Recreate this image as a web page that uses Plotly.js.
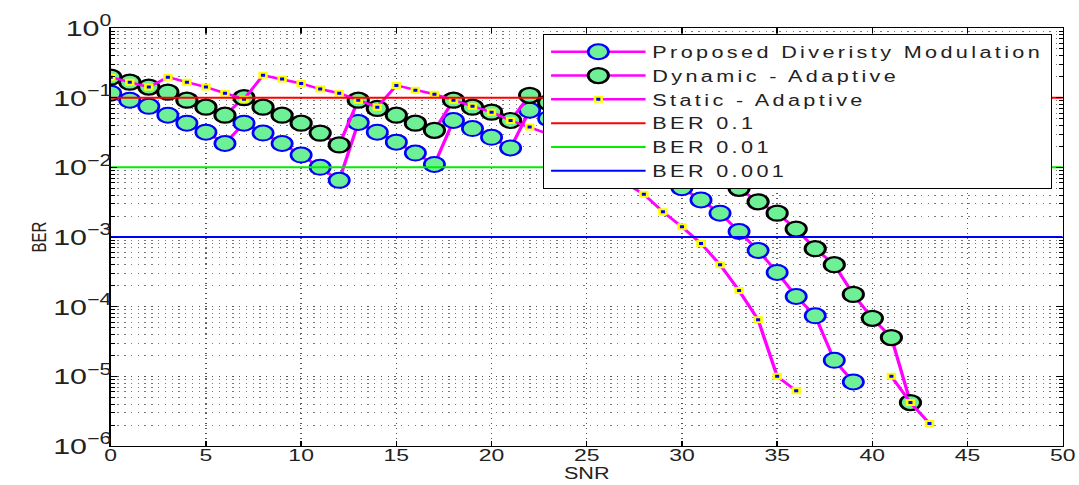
<!DOCTYPE html>
<html><head><meta charset="utf-8">
<script src="https://cdn.plot.ly/plotly-3.0.1.min.js"></script>
<style>
html,body{margin:0;padding:0;background:#fff;overflow:hidden;}
#wrap{width:1079px;height:485px;overflow:hidden;}
#plot{width:799px;height:485px;transform:scaleX(1.3504);transform-origin:0 0;}
.legendtext{letter-spacing:2.5px;}
</style></head><body><div id="wrap"><div id="plot"></div></div>
<script>
const snr = [0,1,2,3,4,5,6,7,8,9,10,11,12,13,14,15,16,17,18,19,20,21,22,23,24,25,26,27,28,29,30,31,32,33,34,35,36,37,38,39,40,41,42,43];

const proposed = [0.116,0.092,0.075,0.056,0.043,0.032,0.022,
  0.043,0.031,0.022,0.015,0.010,0.0065,
  0.044,0.032,0.023,0.016,0.011,
  0.047,0.036,0.027,0.019,
  0.066,0.05,0.038,0.028,0.02,0.014,0.01,0.0072,0.0051,0.0034,0.0022,0.0012,0.00064,0.00031,0.00014,0.000074,0.000017,0.0000083,
  null,null,null,null];

const dynamic = [0.197,0.167,0.142,0.12,0.092,0.073,0.056,
  0.1,0.073,0.056,0.043,0.031,0.021,
  0.092,0.07,0.056,0.043,0.034,
  0.092,0.073,0.062,0.047,
  0.108,0.085,0.066,0.05,0.038,0.029,0.022,0.016,0.012,0.009,0.0068,
  0.0050,0.0032,0.0022,0.0013,0.00068,0.00040,0.00015,0.000068,0.000036,0.0000042,
  null];

const staticA = [0.197,0.167,0.142,
  0.197,0.167,0.142,0.116,0.095,
  0.21,0.185,0.16,0.133,0.116,0.092,0.073,
  0.15,0.128,0.112,0.092,0.075,0.062,0.047,0.038,
  0.03,0.022,0.015,0.0095,0.006,0.0041,0.0023,0.0014,0.00081,0.00040,0.00017,0.000065,0.000010,0.0000062,
  null,null,null,null,
  0.000010,0.0000042,0.0000021];

const berX = [0, 50];
const ber01 = [0.1, 0.1];
const ber001 = [0.01, 0.01];
const ber0001 = [0.001, 0.001];

const names = ['Proposed Diveristy Modulation','Dynamic - Adaptive','Static - Adaptive','BER 0.1','BER 0.01','BER 0.001'];
const xTicks = [0,5,10,15,20,25,30,35,40,45,50];

const mag = '#ff00ff';
const fill = 'rgb(110,240,150)';

const traces = [
  {x: snr, y: proposed, name: names[0], mode: 'lines+markers', connectgaps: false,
   line: {color: mag, width: 2.5},
   marker: {symbol: 'circle', size: 15, color: fill, line: {color: '#0000ff', width: 2}}},
  {x: snr, y: dynamic, name: names[1], mode: 'lines+markers', connectgaps: false,
   line: {color: mag, width: 2.5},
   marker: {symbol: 'circle', size: 15, color: fill, line: {color: '#000000', width: 2.2}}},
  {x: snr, y: staticA, name: names[2], mode: 'lines+markers', connectgaps: false,
   line: {color: mag, width: 2.5},
   marker: {symbol: 'square', size: 5, color: '#0000ff', line: {color: '#ffff00', width: 2}}},
  {x: berX, y: ber01, name: names[3], mode: 'lines', line: {color: '#ff0000', width: 2}},
  {x: berX, y: ber001, name: names[4], mode: 'lines', line: {color: '#00ee00', width: 2}},
  {x: berX, y: ber0001, name: names[5], mode: 'lines', line: {color: '#0000ff', width: 2}}
];

const layout = {
  width: 799, height: 485,
  margin: {l: 82, r: 12, t: 28, b: 39},
  paper_bgcolor: '#fff', plot_bgcolor: '#fff',
  font: {family: 'Liberation Sans, Arial, sans-serif', color: '#222'},
  showlegend: true,
  legend: {x: 0.454, y: 0.986, xanchor: 'left', yanchor: 'top',
    bgcolor: '#fff', bordercolor: '#000', borderwidth: 1,
    font: {size: 16, color: '#222'}, itemwidth: 70, tracegroupgap: 0},
  xaxis: {range: [0, 50], tickvals: xTicks, ticks: 'inside', ticklen: 5, tickcolor: '#000',
    showline: true, linecolor: '#000', linewidth: 1, mirror: 'allticks',
    showgrid: true, gridcolor: '#555', griddash: '1px,4px', gridwidth: 1, zeroline: false,
    tickfont: {size: 17, color: '#222'}, ticklabelstandoff: -6,
    title: {text: 'SNR', font: {size: 16, color: '#222'}, standoff: 0}},
  yaxis: {type: 'log', range: [-6, 0], dtick: 1, exponentformat: 'power',
    labelalias: {'1': '10<sup>0</sup>'},
    ticks: 'inside', ticklen: 5, tickcolor: '#000',
    showline: true, linecolor: '#000', linewidth: 1, mirror: 'allticks',
    showgrid: true, gridcolor: '#555', griddash: '1px,4px', gridwidth: 1, zeroline: false,
    tickfont: {size: 18, color: '#222'}, ticklabelstandoff: -5,
    minor: {dtick: 'D1', ticks: 'inside', ticklen: 3, tickcolor: '#000', showgrid: true,
      gridcolor: '#777', griddash: '1px,4px', gridwidth: 1},
    title: {text: 'BER', font: {size: 15, color: '#222'}}}
};

Plotly.newPlot('plot', traces, layout, {displayModeBar: false, staticPlot: true});
</script></body></html>
